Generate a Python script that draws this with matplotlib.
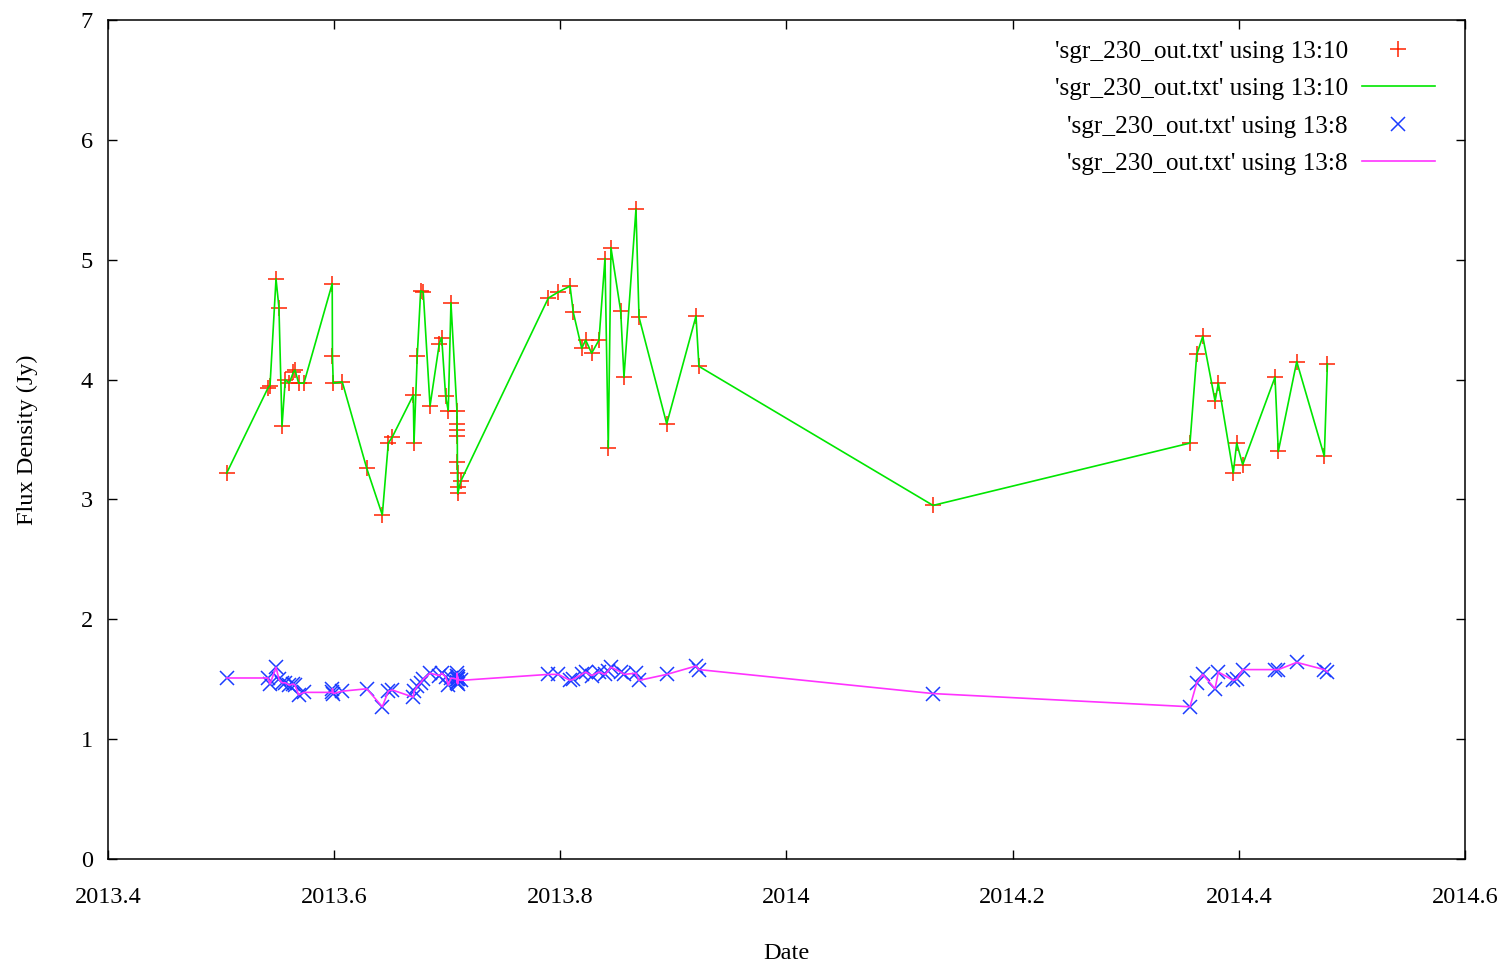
import numpy as np
import matplotlib
matplotlib.use('Agg')
from matplotlib import pyplot as plt

# date (column 13) shared by both series
dates = [2013.5050, 2013.5415, 2013.5433, 2013.5486, 2013.5512, 2013.5539,
         2013.5568, 2013.5603, 2013.5639, 2013.5654, 2013.5686, 2013.5733,
         2013.5983, 2013.5985, 2013.5992, 2013.6072, 2013.6288, 2013.6426,
         2013.6479, 2013.6514, 2013.6700, 2013.6706, 2013.6735, 2013.6765,
         2013.6788, 2013.6848, 2013.6930, 2013.6951, 2013.6986, 2013.7009,
         2013.7033, 2013.7086, 2013.7087, 2013.7088, 2013.7089, 2013.7090,
         2013.7091, 2013.7092, 2013.7093, 2013.7119,
         2013.7894, 2013.7982, 2013.8086, 2013.8115, 2013.8189, 2013.8224,
         2013.8277, 2013.8342, 2013.8395, 2013.8424, 2013.8448, 2013.8534,
         2013.8563, 2013.8669, 2013.8696, 2013.8941, 2013.9200, 2013.9226,
         2014.1296,
         2014.3568, 2014.3628, 2014.3681, 2014.3790, 2014.3819, 2014.3951,
         2014.3981, 2014.4034, 2014.4320, 2014.4349, 2014.4512, 2014.4756,
         2014.4783]

# column 10
flux10 = [3.22, 3.93, 3.95, 4.84, 4.60, 3.61,
          4.00, 3.97, 4.06, 4.08, 3.97, 3.97,
          4.80, 4.20, 3.97, 3.98, 3.26, 2.87,
          3.47, 3.52, 3.87, 3.47, 4.20, 4.74,
          4.73, 3.78, 4.30, 4.35, 3.86, 3.74,
          4.64, 3.74, 3.63, 3.58, 3.53, 3.31,
          3.22, 3.10, 3.05, 3.15,
          4.68, 4.73, 4.78, 4.56, 4.26, 4.33,
          4.22, 4.33, 5.01, 3.43, 5.10, 4.57,
          4.02, 5.42, 4.52, 3.63, 4.53, 4.11,
          2.95,
          3.47, 4.21, 4.36, 3.82, 3.97, 3.22,
          3.47, 3.29, 4.02, 3.40, 4.15, 3.36,
          4.13]

# column 8
flux8 = [1.51, 1.51, 1.46, 1.60, 1.50, 1.47,
         1.47, 1.45, 1.46, 1.45, 1.37, 1.39,
         1.39, 1.42, 1.38, 1.40, 1.42, 1.27,
         1.40, 1.41, 1.35, 1.40, 1.44, 1.47,
         1.50, 1.55, 1.53, 1.55, 1.52, 1.45,
         1.51, 1.50, 1.55, 1.48, 1.53, 1.47,
         1.52, 1.46, 1.50, 1.49,
         1.54, 1.54, 1.49, 1.50, 1.54, 1.56,
         1.53, 1.56, 1.54, 1.57, 1.60, 1.56,
         1.54, 1.55, 1.49, 1.54, 1.61, 1.58,
         1.38,
         1.27, 1.47, 1.54, 1.42, 1.56, 1.49,
         1.50, 1.58, 1.58, 1.58, 1.64, 1.58,
         1.56]

xticks = [2013.4, 2013.6, 2013.8, 2014.0, 2014.2, 2014.4, 2014.6]
xtick_labels = ['2013.4', '2013.6', '2013.8', '2014', '2014.2', '2014.4', '2014.6']
yticks = [0, 1, 2, 3, 4, 5, 6, 7]

label10 = "'sgr_230_out.txt' using 13:10"
label8 = "'sgr_230_out.txt' using 13:8"

plt.rcParams['font.family'] = ['Liberation Serif', 'DejaVu Serif']
plt.rcParams['font.size'] = 17.5

fig = plt.figure(figsize=(15.1, 9.66), dpi=100)
ax = fig.add_axes([0.0715, 0.1108, 0.8987, 0.8685])

ax.plot(dates, flux10, linestyle='none', marker='+', color='#ff2200',
        markersize=11, markeredgewidth=1.1, label=label10)
ax.plot(dates, flux10, color='#00e600', linewidth=1.2, label=label10)
ax.plot(dates, flux8, linestyle='none', marker='x', color='#1a3cff',
        markersize=10, markeredgewidth=1.1, label=label8)
ax.plot(dates, flux8, color='#ff33ff', linewidth=1.2, label=label8)

ax.set_xlim(2013.4, 2014.6)
ax.set_ylim(0, 7)
ax.set_xticks(xticks)
ax.set_xticklabels(xtick_labels)
ax.set_yticks(yticks)
ax.tick_params(direction='in', length=6.5, width=1, top=True, right=True)
ax.tick_params(axis='x', pad=20)
ax.tick_params(axis='y', pad=11)
for s in ax.spines.values():
    s.set_linewidth(1.1)

ax.set_xlabel('Date')
ax.set_ylabel('Flux Density (Jy)')
ax.xaxis.set_label_coords(0.5, -0.1)
ax.yaxis.set_label_coords(-0.0516, 0.5)

ax.legend(loc='upper right', bbox_to_anchor=(0.978, 0.976), frameon=False,
          markerfirst=False, borderpad=0, borderaxespad=0, labelspacing=0.58,
          handlelength=2.9, handletextpad=0.55, numpoints=1, fontsize=18.2)

fig.savefig('out.png', dpi=100)
